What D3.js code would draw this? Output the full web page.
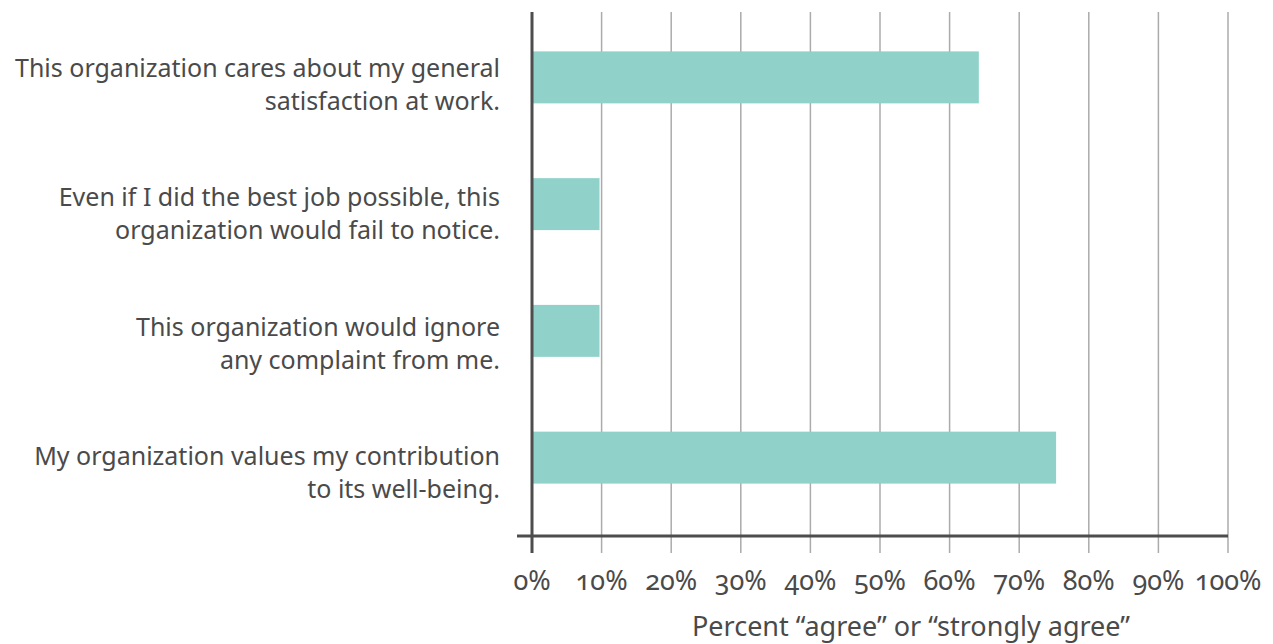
<!DOCTYPE html>
<html><head><meta charset="utf-8">
<script src="https://cdn.jsdelivr.net/npm/d3@7"></script>
<style>
body{margin:0;background:#fff;}
text{font-family:"Noto Sans",sans-serif;fill:#4a4a4a;}
.tick-lbl{font-variant-numeric:oldstyle-nums;font-feature-settings:"onum" 1;}
</style>
</head><body>
<svg id="chart" width="1273" height="644"></svg>
<script>
const categories = [
  ["This organization cares about my general", "satisfaction at work."],
  ["Even if I did the best job possible, this", "organization would fail to notice."],
  ["This organization would ignore", "any complaint from me."],
  ["My organization values my contribution", "to its well-being."]
];
const values = [64.2, 9.7, 9.7, 75.3];
const tickValues = [0,10,20,30,40,50,60,70,80,90,100];
const tickLabels = ["0%","10%","20%","30%","40%","50%","60%","70%","80%","90%","100%"];
const axisTitle = "Percent \u201cagree\u201d or \u201cstrongly agree\u201d";

const svg = d3.select("#chart");
const x = d3.scaleLinear().domain([0,100]).range([532,1228]);
const y = d3.scaleBand().domain(d3.range(categories.length)).range([14,521]).paddingInner(0.59).paddingOuter(0.295);
const yLabel = y.copy().range([20,537]);
const axisY = 536, plotTop = 12, tickLen = 17;

// gridlines
svg.append("g").selectAll("line").data(tickValues.slice(1)).join("line")
  .attr("x1", d=>x(d)).attr("x2", d=>x(d)).attr("y1", plotTop).attr("y2", axisY+tickLen)
  .attr("stroke","#ababab").attr("stroke-width",1.5);

// bars
svg.append("g").selectAll("rect").data(values).join("rect")
  .attr("x", x(0)).attr("y", (d,i)=>y(i)).attr("width", d=>x(d)-x(0)).attr("height", y.bandwidth())
  .attr("fill","#90d2c9");

// x axis line
svg.append("line").attr("x1",517).attr("x2",x(100)).attr("y1",axisY).attr("y2",axisY)
  .attr("stroke","#4d4d4d").attr("stroke-width",3);
// y axis line
svg.append("line").attr("x1",x(0)).attr("x2",x(0)).attr("y1",plotTop).attr("y2",axisY+tickLen)
  .attr("stroke","#4d4d4d").attr("stroke-width",3);

// tick labels
svg.append("g").selectAll("text").data(tickValues).join("text")
  .attr("class","tick-lbl")
  .attr("x", d=>x(d)).attr("y", 590).attr("text-anchor","middle")
  .attr("font-size",27).text((d,i)=>tickLabels[i]);

// axis title
svg.append("text").attr("x", 911).attr("y", 636).attr("text-anchor","middle")
  .attr("font-size",27).text(axisTitle);

// category labels
const lg = svg.append("g").selectAll("text").data(categories).join("text")
  .attr("text-anchor","end").attr("font-size",25)
  .attr("transform",(d,i)=>`translate(500,${yLabel(i)+yLabel.bandwidth()/2})`);
lg.selectAll("tspan").data(d=>d).join("tspan")
  .attr("x",0).attr("y",(d,j)=>(j-0.5)*33 + 9).text(d=>d);
</script>
</body></html>
